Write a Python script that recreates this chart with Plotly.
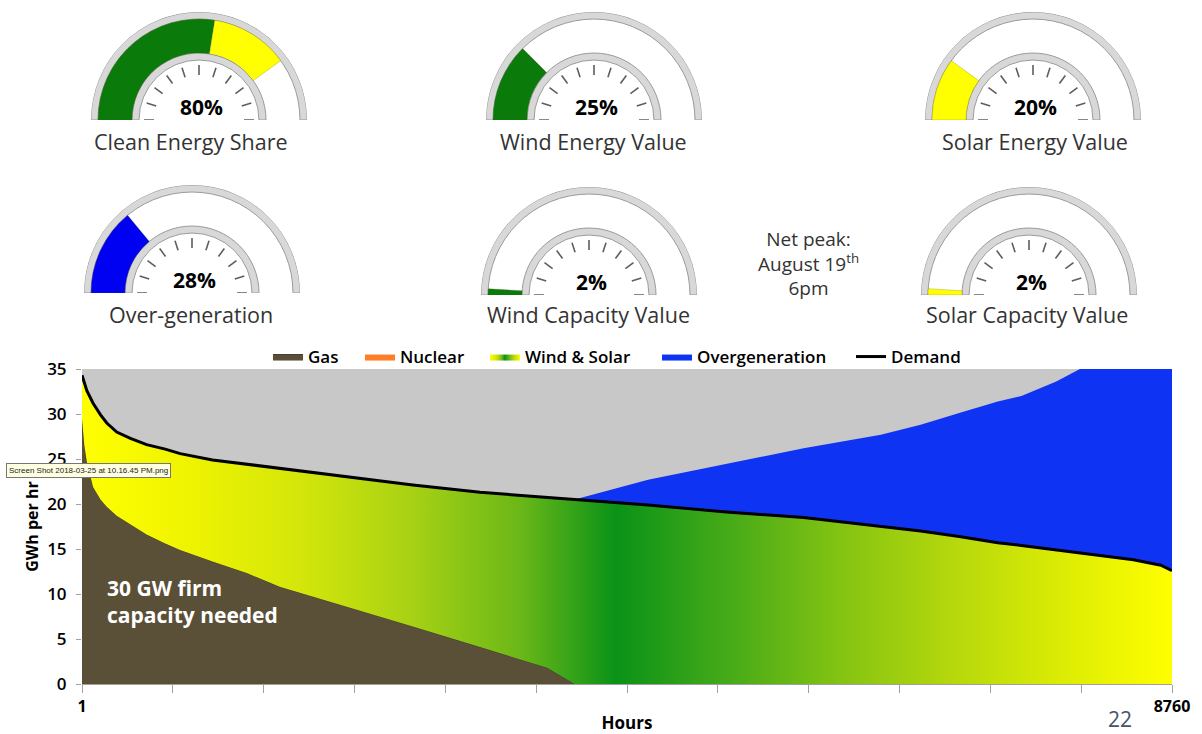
import numpy as np
import plotly.graph_objects as go

W, H = 1202, 734

# ---------------- Load duration curve data (GW, hours sorted by demand) ----------------
hours = [1, 20, 40, 90, 150, 200, 280, 390, 520, 670, 790, 1050, 1330, 1590, 2130, 2660,
         3200, 3740, 3960, 4550, 5180, 5800, 6420, 6740, 7050, 7360, 7550, 7830, 8020,
         8260, 8450, 8670, 8760]
demand = [34.3, 33.4, 32.6, 31.2, 29.9, 29.0, 28.0, 27.3, 26.6, 26.1, 25.6, 24.9, 24.4,
          24.0, 23.0, 22.1, 21.3, 20.7, 20.5, 19.9, 19.1, 18.5, 17.5, 17.0, 16.4, 15.7,
          15.4, 14.9, 14.6, 14.2, 13.8, 13.2, 12.6]
gas = [29.5, 26.5, 24.7, 21.9, 20.5, 19.7, 18.7, 17.7, 16.6, 15.6, 14.9, 13.6, 12.3,
       10.8, 8.6, 6.4, 4.1, 1.8, 0, 0, 0, 0, 0, 0, 0, 0, 0, 0, 0, 0, 0, 0, 0]
nuclear = [0] * 33
overgen = [0] * 19 + [2.8, 5.4, 7.7, 10.2, 11.8, 13.7, 15.7, 16.6, 18.7, 20.4, 22.3,
                      23.7, 25.3, 26.4]

x_tickvals = [1, 8760]
x_ticktext = ["1", "8760"]
x_minor_tickvals = [731, 1461, 2191, 2921, 3651, 4381, 5111, 5841, 6571, 7301, 8031]
y_tickvals = [0, 5, 10, 15, 20, 25, 30, 35]

# ---------------- Gauge data ----------------
gauge_titles = ["Clean Energy Share", "Wind Energy Value", "Solar Energy Value",
                "Over-generation", "Wind Capacity Value", "Solar Capacity Value"]
gauge_pct = [80, 25, 20, 28, 2, 2]
gauge_segments = [[55, 25], [25], [20], [28], [2], [2]]
gauge_colors = [["#0a7a0a", "#ffff00"], ["#0a7a0a"], ["#ffff00"], ["#0000f2"],
                ["#0a7a0a"], ["#ffff00"]]

# layout geometry (pixels): centre x, baseline y
gauge_pos = [(199, 120), (594, 120), (1033, 120), (192, 293), (589, 295), (1029, 295)]
title_pos = [(191, 141), (593, 141), (1035, 141), (191, 315), (588, 315), (1027, 315)]
R = 108

GAS_C = "#5a5037"
NUC_C = "#ff7f27"
OVER_C = "#0f33f2"
GRAY_BG = "#c8c8c8"


def px(x):
    return x / W


def py(y):
    return (H - y) / H


fig = go.Figure()

# ---------------- Main chart ----------------
nuc_top = [g + n for g, n in zip(gas, nuclear)]
over_top = [d + o for d, o in zip(demand, overgen)]

fig.add_trace(go.Scatter(x=hours, y=gas, name="Gas", mode="lines", legend="legend",
                         line=dict(color="#433b28", width=1), fill="tozeroy",
                         fillcolor=GAS_C))
fig.add_trace(go.Scatter(x=hours, y=nuc_top, name="Nuclear", mode="lines", legend="legend2",
                         line=dict(width=0, color=NUC_C), fill="tonexty",
                         fillcolor=NUC_C))
fig.add_trace(go.Scatter(
    x=hours, y=demand, name="Wind & Solar", mode="lines", line=dict(width=0),
    legend="legend3", fill="tonexty",
    fillgradient=dict(type="horizontal", start=1, stop=8760,
                      colorscale=[[0, "#ffff00"], [0.1, "#eef300"], [0.2, "#d4e60a"],
                                  [0.3, "#a9d214"], [0.4, "#6cb818"], [0.49, "#0a9218"],
                                  [0.6, "#4aac18"], [0.7, "#86c412"], [0.8, "#b6d80c"],
                                  [0.9, "#dcec04"], [1, "#ffff00"]])))
fig.add_trace(go.Scatter(x=hours, y=over_top, name="Overgeneration", mode="lines",
                         legend="legend4",
                         line=dict(width=0, color=OVER_C), fill="tonexty",
                         fillcolor=OVER_C))
fig.add_trace(go.Scatter(x=hours, y=demand, name="Demand", mode="lines", legend="legend5",
                         line=dict(color="black", width=3)))

# ---------------- Gauges ----------------
tick_angles = list(range(0, 181, 18))
for i in range(6):
    sp = "polar" if i == 0 else f"polar{i + 1}"
    for base, thick in [(60, 7), (101, 7)]:
        fig.add_trace(go.Barpolar(r=[thick], base=[base], theta=[90], width=[180],
                                  marker=dict(color="#d8d8d8",
                                              line=dict(color="#9a9a9a", width=1)),
                                  subplot=sp, showlegend=False, hoverinfo="skip"))
    segs = gauge_segments[i]
    starts = np.cumsum([0] + segs[:-1]) * 1.8
    widths = np.array(segs) * 1.8
    centers = starts + widths / 2
    fig.add_trace(go.Barpolar(r=[34] * len(segs), base=[67] * len(segs),
                              theta=list(centers), width=list(widths),
                              marker=dict(color=gauge_colors[i],
                                          line=dict(color="rgba(90,90,40,0.5)", width=0.5)),
                              subplot=sp, showlegend=False, hoverinfo="skip"))
    tr, tt = [], []
    for a in tick_angles:
        tr += [45, 55, None]
        tt += [a, a, None]
    fig.add_trace(go.Scatterpolar(r=tr, theta=tt, mode="lines",
                                  line=dict(color="#5e5e5e", width=1.6),
                                  subplot=sp, showlegend=False, hoverinfo="skip"))

polar_layout = {}
for i, (cx, by) in enumerate(gauge_pos):
    key = "polar" if i == 0 else f"polar{i + 1}"
    polar_layout[key] = dict(
        domain=dict(x=[px(cx - R), px(cx + R)], y=[py(by), py(by - R)]),
        sector=[0, 180], bgcolor="rgba(0,0,0,0)", barmode="overlay",
        angularaxis=dict(visible=False, rotation=180, direction="clockwise"),
        radialaxis=dict(visible=False, range=[0, R]))

annotations = []
for i, (cx, by) in enumerate(gauge_pos):
    annotations.append(dict(x=px(cx + 2), y=py(by - 13), xref="paper", yref="paper",
                            xanchor="center", yanchor="middle",
                            text=f"{gauge_pct[i]}%", showarrow=False,
                            font=dict(size=21, color="black", weight="bold")))
    tx, ty = title_pos[i]
    annotations.append(dict(x=px(tx), y=py(ty), xref="paper", yref="paper",
                            xanchor="center", yanchor="middle",
                            text=gauge_titles[i], showarrow=False,
                            font=dict(size=21.5, color="#333333")))

annotations += [
    dict(x=px(808), y=py(263), xref="paper", yref="paper", showarrow=False,
         xanchor="center", yanchor="middle",
         text="Net peak:<br>August 19<sup>th</sup><br>6pm", align="center",
         font=dict(size=19, color="#333333")),
    dict(x=px(105), y=py(601), xref="paper", yref="paper", showarrow=False,
         xanchor="left", yanchor="middle", align="left",
         text="30 GW firm<br>capacity needed",
         font=dict(size=21, color="white", weight="bold")),
    dict(x=px(6), y=py(470), xref="paper", yref="paper", showarrow=False,
         xanchor="left", yanchor="middle",
         text="Screen Shot 2018-03-25 at 10.16.45 PM.png",
         font=dict(size=8, color="#222222", family="Liberation Sans"),
         bgcolor="#ffffe1", bordercolor="#767676", borderwidth=1, borderpad=2),
    dict(x=px(1120), y=py(719), xref="paper", yref="paper", showarrow=False,
         xanchor="center", yanchor="middle",
         text="22", font=dict(size=21, color="#44546a")),
]

legend_common = dict(orientation="h", xanchor="left", yanchor="middle", y=py(357),
                     font=dict(size=17, color="black", weight=600),
                     bgcolor="rgba(0,0,0,0)")
legends = {}
for j, lx in enumerate([268, 360, 485, 657, 851]):
    key = "legend" if j == 0 else f"legend{j + 1}"
    legends[key] = dict(legend_common, x=px(lx))

fig.update_layout(
    width=W, height=H, autosize=False,
    margin=dict(l=0, r=0, t=0, b=0, pad=0, autoexpand=False),
    paper_bgcolor="white", plot_bgcolor=GRAY_BG,
    font=dict(family="Open Sans", color="black"),
    showlegend=True,
    xaxis=dict(domain=[px(82), px(1172)], range=[1, 8760], tickvals=x_tickvals,
               ticktext=x_ticktext, ticks="outside", ticklen=8, tickcolor="#a0a0a0",
               minor=dict(tickvals=x_minor_tickvals, ticks="outside", ticklen=8,
                          tickcolor="#a0a0a0", showgrid=False),
               showline=True, linecolor="#a0a0a0", showgrid=False, zeroline=False,
               tickfont=dict(size=16, weight="bold"), automargin=False,
               title=dict(text="Hours", font=dict(size=17, weight="bold"), standoff=4)),
    yaxis=dict(domain=[py(684), py(369)], range=[0, 35], tickvals=y_tickvals,
               ticks="outside", ticklen=5, tickcolor="#a0a0a0", showgrid=False,
               zeroline=False, showline=False, tickfont=dict(size=17, weight=600),
               ticklabelstandoff=6, automargin=False,
               title=dict(text="GWh per hr", font=dict(size=16, weight="bold"),
                          standoff=4)),
    annotations=annotations,
    **legends,
    **polar_layout,
)

fig.write_html("out.html")
